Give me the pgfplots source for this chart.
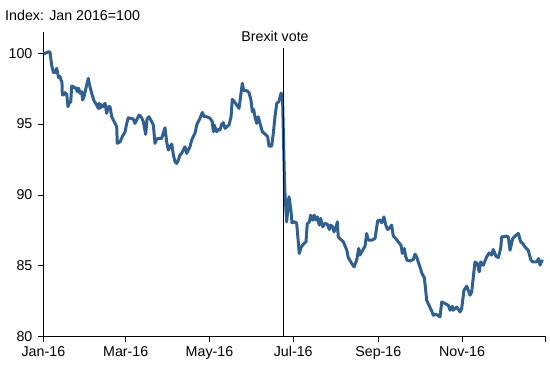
\documentclass[border=0pt]{standalone}
\usepackage{fontspec}
\setmainfont{Liberation Sans}
\usepackage{pgfplots}
\usepackage{pgfplotstable}
\pgfplotsset{compat=1.18}
\definecolor{lineblue}{HTML}{30608F}
\pgfplotstableread{
d v
0 99.95
4.1 100.11
4.8 100.07
6.0 99.17
7.2 98.66
8.5 98.63
9.7 98.94
10.4 98.59
11.1 98.28
12.1 98.35
12.8 98.11
13.5 97.99
13.8 97.05
15.0 97.10
15.7 97.22
17.0 97.10
17.9 96.23
18.9 96.54
19.9 96.54
20.6 97.69
21.8 97.64
23.0 97.53
23.7 97.57
24.7 97.29
25.7 97.53
26.7 97.17
27.9 97.29
28.6 96.70
29.6 96.93
31.0 97.53
32.7 98.23
33.9 97.64
35.2 97.17
36.9 96.63
38.8 96.35
40.0 96.11
40.7 96.47
41.2 96.11
42.5 96.35
43.6 96.23
44.9 96.47
46.1 95.76
47.3 96.23
48.5 96.23
49.8 95.52
50.9 95.29
52.2 95.05
53.4 94.81
53.8 93.64
55.8 93.75
57.8 94.18
59.4 94.42
60.7 95.05
61.8 95.45
63.1 95.41
65.5 95.36
66.7 95.05
68.0 95.29
69.6 95.64
71.6 95.45
72.8 95.17
74.5 94.28
75.5 95.36
76.9 95.52
78.9 95.17
80.1 94.93
81.3 93.64
82.5 93.94
83.7 93.99
86.2 93.99
87.3 94.35
88.6 94.74
89.8 93.75
91.0 93.17
92.2 93.40
93.5 93.59
94.6 92.86
95.9 92.34
97.1 92.22
98.3 92.46
99.5 92.81
100.7 92.93
101.9 93.17
103.2 93.40
104.4 92.93
105.6 93.17
106.8 93.40
108.0 93.87
109.2 94.11
110.4 94.35
111.7 94.93
112.8 95.17
114.1 95.41
115.8 95.83
117.0 95.52
119.0 95.52
121.4 95.41
123.0 95.17
123.8 94.46
124.5 94.93
126.2 94.46
127.4 94.63
128.6 94.58
129.9 95.00
131.1 95.10
132.3 94.70
133.5 94.81
135.2 94.93
136.7 95.52
137.6 96.75
139.1 96.58
140.8 96.35
142.5 96.11
143.9 97.12
144.9 97.88
145.9 97.36
148.1 97.36
149.8 97.22
151.2 96.70
152.2 95.87
153.2 96.04
154.1 95.52
155.4 95.05
156.5 95.52
157.8 95.05
159.5 94.46
161.4 94.30
163.4 94.11
164.3 93.45
166.3 93.45
167.5 94.35
168.7 95.52
170.0 96.47
171.6 96.58
173.1 97.19
174.2 96.95
175.7 90.62
177.2 88.10
178.9 89.87
180.2 89.05
181.1 88.03
183.3 88.10
184.5 87.99
186.4 85.87
187.7 86.29
189.3 86.52
191.3 86.69
192.2 87.94
193.7 88.10
194.7 88.57
196.2 88.22
197.3 88.57
198.6 88.22
199.5 88.45
201.0 87.87
202.0 88.34
203.5 87.75
205.1 87.99
206.8 87.94
208.3 87.56
209.3 87.87
210.8 87.75
211.7 87.39
213.2 87.70
214.1 88.10
214.8 87.04
216.6 86.86
218.5 86.69
221.0 86.10
222.1 85.58
224.6 85.16
226.3 84.92
228.2 85.39
229.7 86.22
230.6 85.75
232.6 86.10
234.3 86.38
235.5 87.28
236.7 86.81
239.2 86.81
241.6 86.93
243.5 88.17
245.2 88.22
246.4 88.03
248.1 88.45
249.4 87.87
250.8 87.56
252.5 87.70
253.7 87.87
254.9 87.09
256.6 86.93
258.5 86.69
260.5 86.45
261.5 85.87
262.9 86.22
263.9 85.67
264.9 85.39
267.1 85.34
269.5 85.44
270.7 85.82
271.9 85.63
273.1 85.27
274.3 84.92
276.0 84.40
277.5 84.17
278.5 83.27
279.2 82.57
280.9 82.21
282.9 81.81
284.0 81.51
285.8 81.58
287.2 81.51
288.9 81.39
290.2 82.45
292.6 82.33
295.0 82.21
296.2 81.86
297.9 82.14
298.6 81.86
301.1 82.09
303.5 81.74
304.7 81.98
306.4 83.27
308.4 83.56
310.8 82.92
312.0 83.15
314.4 85.27
316.1 85.16
317.5 84.57
318.6 85.27
320.5 85.04
322.9 85.63
324.8 85.91
326.6 85.75
327.7 86.15
329.7 85.67
331.4 85.58
333.1 86.22
333.9 87.04
337.5 87.09
338.7 87.04
339.9 86.10
341.9 86.93
344.3 87.16
346.0 87.28
347.7 86.69
349.2 86.57
350.8 86.33
353.2 86.10
355.0 85.44
356.4 85.27
359.3 85.27
360.8 85.51
361.8 85.04
363.0 85.34
364.2 85.32
}\gbp
\begin{document}
\begin{tikzpicture}[x=1bp,y=1bp]
\useasboundingbox (0,0) rectangle (550,365);
\begin{axis}[
  at={(43.4bp,28.4bp)}, anchor=south west,
  width=502.4bp, height=304.6bp, scale only axis,
  xmin=0, xmax=366, ymin=80, ymax=101.5,
  axis x line*=bottom, axis y line*=left,
  axis line style={-, line width=0.8bp, black},
  xtick={0,60,121,182,244,305,366},
  xticklabels={Jan-16,Mar-16,May-16,Jul-16,Sep-16,Nov-16,{}},
  ytick={80,85,90,95,100},
  tick align=outside, major tick length=5bp,
  every tick/.style={black, line width=0.8bp},
  ticklabel style={font=\fontsize{14.3}{17}\selectfont, text=black},
  yticklabel style={/pgf/number format/assume math mode=true, xshift=-2.5bp},
  xticklabel style={yshift=-1bp},
  clip=false,
]
\addplot[lineblue, line width=3bp, line join=round] table[x=d, y=v] {\gbp};
\addplot[black, line width=0.9bp] coordinates {(175,80) (175,100.37)};
\node[anchor=base, inner sep=0, xshift=-8.6bp, font=\fontsize{14.3}{17}\selectfont] at (axis cs:175,100.82) {Brexit vote};
\end{axis}
\node[anchor=base west, inner sep=0, font=\fontsize{14.3}{17}\selectfont] at (5,345) {Index: Jan 2016=100};
\end{tikzpicture}
\end{document}
